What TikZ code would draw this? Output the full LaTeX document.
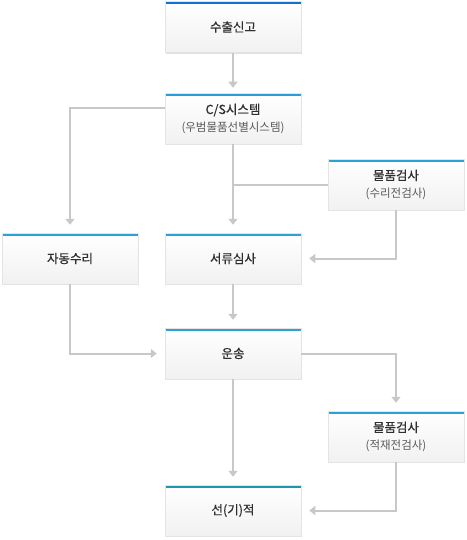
\documentclass[tikz,border=0pt]{standalone}
\usepackage{fontspec}
\setmainfont{Noto Sans CJK KR}
\newfontfamily\titlefont[FakeBold=0.6]{Noto Sans CJK KR}
\usetikzlibrary{arrows.meta,shadows}
\definecolor{linec}{HTML}{C8C8C8}
\definecolor{edgec}{HTML}{E4E4E4}
\definecolor{botc}{HTML}{F1F1F1}
\definecolor{titlec}{HTML}{2E2E2E}
\definecolor{subc}{HTML}{5A5A5A}
\definecolor{barA}{HTML}{1470D0}
\definecolor{barB}{HTML}{2A9DD8}
\definecolor{barC}{HTML}{2AA2D6}
\definecolor{barD}{HTML}{2097A8}
\newcommand{\sub}[1]{{\normalfont\fontsize{11.5}{14}\selectfont\color{subc}#1}}
\begin{document}
\begin{tikzpicture}[x=1pt,y=-1pt,
  barcolor/.store in=\barcol, barcolor=barC,
  box/.style={rectangle, minimum width=136pt, minimum height=51pt, inner sep=0pt,
    top color=white, bottom color=botc, draw=edgec, line width=0.5pt,
    drop shadow={shadow xshift=0.6pt, shadow yshift=-1.2pt, fill=black, opacity=0.12},
    align=center, text=titlec, font=\titlefont\fontsize{12.5}{17}\selectfont,
    path picture={\fill[\barcol] (path picture bounding box.north west) rectangle ([yshift=-3pt]path picture bounding box.north east);}},
  conn/.style={draw=linec, line width=2pt, -{Triangle[width=9pt,length=6pt]}, shorten >=8pt}
]
\useasboundingbox (0,0) rectangle (466,540);
\node[box, barcolor=barA] (n1) at (233,27) {수출신고};
\node[box, barcolor=barB] (n2) at (233,118.5) {C/S시스템\\\sub{(우범물품선별시스템)}};
\node[box] (n3) at (396,184.5) {물품검사\\\sub{(수리전검사)}};
\node[box] (n4) at (70,258.5) {자동수리};
\node[box] (n5) at (233,258.5) {서류심사};
\node[box] (n6) at (233,353.5) {운송};
\node[box] (n7) at (396,436.5) {물품검사\\\sub{(적재전검사)}};
\node[box, barcolor=barD] (n8) at (233,510.5) {선(기)적};

\draw[conn, shorten >=5pt] (n1) -- (n2);
\draw[conn] ([yshift=10pt]n2.west) -| (n4);
\draw[conn] (n2) -- (n5);
\draw[draw=linec, line width=2pt] (n3) -- (n3 -| n2);
\draw[conn] (n3) |- (n5);
\draw[conn] (n4) |- (n6);
\draw[conn] (n5) -- (n6);
\draw[conn] (n6) -| (n7);
\draw[conn] (n6) -- (n8);
\draw[conn] (n7) |- (n8);
\end{tikzpicture}
\end{document}
